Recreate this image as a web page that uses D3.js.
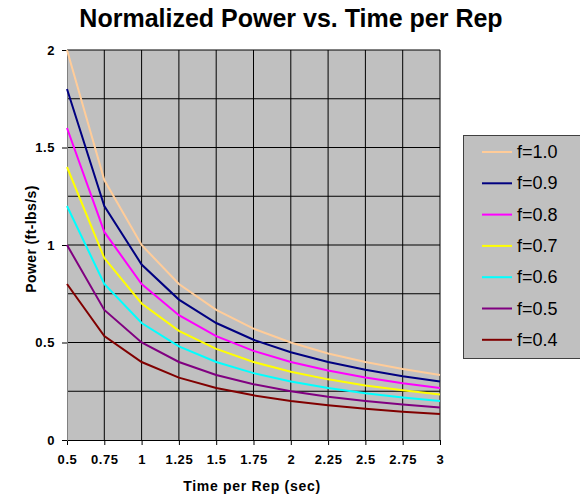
<!DOCTYPE html>
<html lang="en">
<head>
<meta charset="UTF-8">
<title>Normalized Power vs. Time per Rep</title>
<script src="https://d3js.org/d3.v7.min.js"></script>
<style>
  body { margin: 0; background: #fff; font-family: Arial, "Liberation Sans", sans-serif; }
  svg { display: block; }
  .tick text { font-size: 13px; font-weight: bold; fill: #000; letter-spacing: 0.6px; }
</style>
</head>
<body>
<svg width="580" height="494"></svg>
<script>
// data
const times = [0.5, 0.75, 1, 1.25, 1.5, 1.75, 2, 2.25, 2.5, 2.75, 3];
const f10 = [2.0, 1.333, 1.0, 0.8, 0.667, 0.571, 0.5, 0.444, 0.4, 0.364, 0.333];
const f09 = [1.8, 1.2, 0.9, 0.72, 0.6, 0.514, 0.45, 0.4, 0.36, 0.327, 0.3];
const f08 = [1.6, 1.067, 0.8, 0.64, 0.533, 0.457, 0.4, 0.356, 0.32, 0.291, 0.267];
const f07 = [1.4, 0.933, 0.7, 0.56, 0.467, 0.4, 0.35, 0.311, 0.28, 0.255, 0.233];
const f06 = [1.2, 0.8, 0.6, 0.48, 0.4, 0.343, 0.3, 0.267, 0.24, 0.218, 0.2];
const f05 = [1.0, 0.667, 0.5, 0.4, 0.333, 0.286, 0.25, 0.222, 0.2, 0.182, 0.167];
const f04 = [0.8, 0.533, 0.4, 0.32, 0.267, 0.229, 0.2, 0.178, 0.16, 0.145, 0.133];
const seriesNames = ["f=1.0", "f=0.9", "f=0.8", "f=0.7", "f=0.6", "f=0.5", "f=0.4"];
const seriesValues = [f10, f09, f08, f07, f06, f05, f04];
const seriesColors = ["#ffcc99", "#000080", "#ff00ff", "#ffff00", "#00ffff", "#800080", "#800000"];
const yTicks = [0, 0.5, 1, 1.5, 2];
const yGrid = [0.25, 0.5, 0.75, 1, 1.25, 1.5, 1.75, 2];

const svg = d3.select("svg");
const plot = { left: 67, right: 440, top: 50, bottom: 440 };

const x = d3.scaleLinear().domain([0.5, 3]).range([plot.left, plot.right]);
const y = d3.scaleLinear().domain([0, 2]).range([plot.bottom, plot.top]);

// plot background
svg.append("rect")
  .attr("x", plot.left).attr("y", plot.top)
  .attr("width", plot.right - plot.left).attr("height", plot.bottom - plot.top)
  .attr("fill", "#c0c0c0");

// gridlines
svg.append("g").selectAll("line").data(yGrid).join("line")
  .attr("x1", plot.left).attr("x2", plot.right)
  .attr("y1", d => y(d)).attr("y2", d => y(d))
  .attr("stroke", "#000").attr("stroke-width", 1);
svg.append("g").selectAll("line").data(times.slice(1)).join("line")
  .attr("x1", d => x(d)).attr("x2", d => x(d))
  .attr("y1", plot.top).attr("y2", plot.bottom)
  .attr("stroke", "#000").attr("stroke-width", 1);

// axes
svg.append("g")
  .attr("transform", `translate(0,${plot.bottom})`)
  .call(d3.axisBottom(x).tickValues(times).tickFormat(d3.format("")).tickSize(5).tickPadding(10))
  .call(g => g.select(".domain").attr("stroke", "#000"));
svg.append("g")
  .attr("transform", `translate(${plot.left},0)`)
  .call(d3.axisLeft(y).tickValues(yTicks).tickFormat(d3.format("")).tickSize(5).tickPadding(7))
  .call(g => g.select(".domain").attr("stroke", "#808080"));

// lines
const line = d3.line().x((d, i) => x(times[i])).y(d => y(d));
svg.append("g").selectAll("path").data(seriesValues).join("path")
  .attr("d", line)
  .attr("fill", "none")
  .attr("stroke", (d, i) => seriesColors[i])
  .attr("stroke-width", 2);

// titles
svg.append("text")
  .attr("x", 291).attr("y", 27)
  .attr("text-anchor", "middle")
  .attr("font-size", "25px").attr("font-weight", "bold")
  .text("Normalized Power vs. Time per Rep");
svg.append("text")
  .attr("x", 252).attr("y", 491)
  .attr("text-anchor", "middle")
  .attr("font-size", "14px").attr("font-weight", "bold")
  .attr("letter-spacing", "0.7px")
  .text("Time per Rep (sec)");
svg.append("text")
  .attr("transform", "translate(36,239) rotate(-90)")
  .attr("text-anchor", "middle")
  .attr("font-size", "14px").attr("font-weight", "bold")
  .attr("letter-spacing", "0.4px")
  .text("Power (ft-lbs/s)");

// legend
const legend = svg.append("g");
legend.append("rect")
  .attr("x", 463.5).attr("y", 135.5)
  .attr("width", 130).attr("height", 223)
  .attr("fill", "#c0c0c0").attr("stroke", "#404040");
const items = legend.selectAll("g.item").data(seriesNames).join("g")
  .attr("class", "item")
  .attr("transform", (d, i) => `translate(0,${152 + i * 31.3})`);
items.append("line")
  .attr("x1", 482).attr("x2", 512)
  .attr("stroke", (d, i) => seriesColors[i]).attr("stroke-width", 2);
items.append("text")
  .attr("x", 517).attr("y", 6)
  .attr("font-size", "18px")
  .text(d => d);
</script>
</body>
</html>
